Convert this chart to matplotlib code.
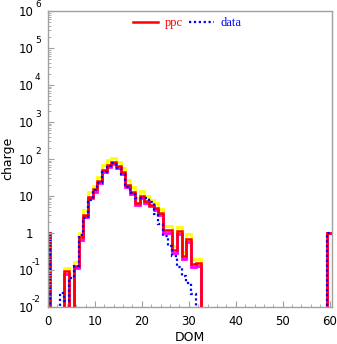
#!/usr/bin/env python3
"""DOM charge: ppc simulation vs data."""

import numpy as np
import matplotlib

matplotlib.use('Agg')
import matplotlib.pyplot as plt
from matplotlib.ticker import FixedLocator, MultipleLocator, NullFormatter

# charge per DOM (index = DOM number 0..60), 0 = empty bin
dom = np.arange(61)

ppc = np.zeros(61)
ppc[0] = 1.0
ppc[4:33] = [0.09, 0, 0.13, 0.75, 3.0, 9.5, 15, 25, 50, 70, 80, 65, 44, 20,
             13, 6.4, 9.7, 7.1, 5.8, 4.7, 3.5, 1.2, 1.2, 0.35, 1.1, 0.23,
             0.66, 0.14, 0.155]
ppc[60] = 1.0

ppc_hi = np.zeros(61)
ppc_hi[0] = 1.0
ppc_hi[4:33] = [0.11, 0, 0.16, 1.0, 4.2, 12.5, 18, 33, 70, 92, 108, 82, 57,
                27, 17, 8.5, 13.3, 10, 7.9, 6.4, 4.5, 1.5, 1.5, 0.45, 1.4,
                0.3, 0.9, 0.19, 0.19]
ppc_hi[60] = 1.0

ppc_lo = np.zeros(61)
ppc_lo[0] = 1.0
ppc_lo[4:33] = [0.075, 0, 0.11, 0.65, 2.6, 8.5, 13, 22, 45, 62, 72, 57, 38,
                17, 11, 5.7, 8.5, 6.3, 5.2, 4.2, 3.0, 1.0, 1.0, 0.28, 0.95,
                0.2, 0.55, 0.12, 0.13]
ppc_lo[60] = 1.0

data = np.zeros(61)
data[0] = 1.0
data[3:32] = [0.024, 0.014, 0.06, 0.13, 0.85, 2.5, 7.5, 14, 22, 45, 65, 75,
              58, 38, 17, 12, 9, 9, 8.5, 7, 3.2, 1.7, 0.8, 0.45, 0.23, 0.12,
              0.068, 0.045, 0.022]
data[60] = 1.0

edges = np.append(dom - 0.5, dom[-1] + 0.5)

plt.rcParams['font.family'] = ['DejaVu Sans']

fig = plt.figure(figsize=(3.37, 3.44), dpi=100)
ax = fig.add_axes([0.1424, 0.1084, 0.8427, 0.8597])

ax.stairs(ppc_hi, edges, color='#ffff00', lw=2.0, baseline=None)
ax.stairs(ppc_lo, edges, color='#ff00ff', lw=2.0, baseline=None)
ax.stairs(ppc, edges, color='#ff0000', lw=1.8, baseline=None, label='ppc')
ax.stairs(data, edges, color='#0000ff', lw=1.6, ls=(0, (1, 1.2)),
          baseline=None, label='data')

ax.set_yscale('log')
ax.set_ylim(1e-2, 1e6)
ax.set_xlim(0, 60.5)

gray = '#a0a0a0'
for s in ax.spines.values():
    s.set_color(gray)
    s.set_linewidth(1.0)

ax.xaxis.set_major_locator(MultipleLocator(10))
ax.xaxis.set_minor_locator(MultipleLocator(2))
ax.tick_params(axis='both', which='both', direction='in', color=gray,
               labelsize=8.5, top=False, right=False)
ax.tick_params(axis='both', which='major', length=4)
ax.tick_params(axis='both', which='minor', length=2.2)
ax.tick_params(axis='x', pad=6)

exps = np.arange(-2, 7)
ax.yaxis.set_major_locator(FixedLocator(10.0 ** exps))
ax.set_yticklabels(['1' if e == 0 else '10' for e in exps])
ax.yaxis.set_minor_formatter(NullFormatter())
ax.tick_params(axis='y', which='major', pad=10.5)
for e in exps:
    if e in (0, 1):
        continue
    ax.annotate(f'{e}', xy=(0, 10.0 ** e),
                xycoords=('axes fraction', 'data'), xytext=(-5.3, 5),
                textcoords='offset points', ha='right', va='center',
                fontsize=6.5)

ax.set_xlabel('DOM', fontsize=9, labelpad=2)
ax.set_ylabel('charge', fontsize=9, labelpad=3)

leg = ax.legend(loc='upper center', bbox_to_anchor=(0.49, 1.0), ncol=2,
                frameon=False, handlelength=2.0, handletextpad=0.5,
                columnspacing=0.5, borderaxespad=0.0, borderpad=0.5,
                labelcolor='linecolor',
                prop={'family': 'Liberation Serif', 'size': 9})

fig.savefig('out.png', dpi=100)
